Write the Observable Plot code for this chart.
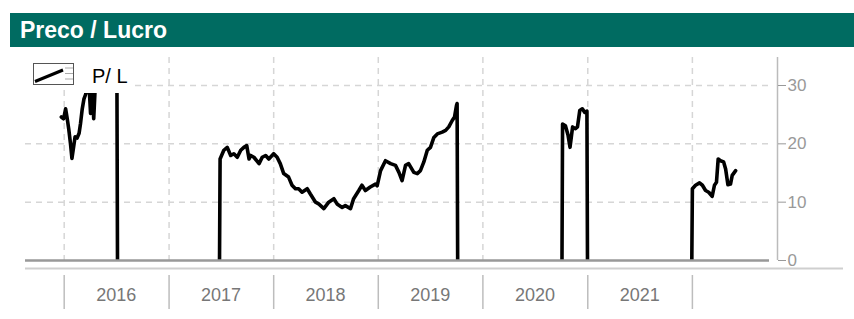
<!DOCTYPE html>
<html>
<head>
<meta charset="utf-8">
<script src="https://cdn.jsdelivr.net/npm/d3@7"></script>
<script src="https://cdn.jsdelivr.net/npm/@observablehq/plot@0.6"></script>
<style>
  body { margin: 0; background: #fff; font-family: Arial, "Liberation Sans", sans-serif; }
  #wrap { position: relative; width: 854px; height: 319px; overflow: hidden; background: #fff; }
  #title { position: absolute; left: 10px; top: 13px; width: 844px; height: 34px; background: #006b61;
           color: #fff; font-weight: bold; font-size: 23px; line-height: 35px; padding-left: 10px; box-sizing: border-box; }
  #chart { position: absolute; left: 0; top: 47px; }
  #legend { position: absolute; left: 25px; top: 57px; width: 110px; height: 33px; background: #fff; z-index: 2; }
  #legend svg { position: absolute; left: 8px; top: 6px; }
  #legend span { position: absolute; left: 67px; top: 8px; font-size: 20px; color: #000; line-height: 22px; }
</style>
</head>
<body>
<div id="wrap">
  <div id="title">Preco / Lucro</div>
  <div id="chart"></div>
  <div id="legend">
    <svg width="41" height="23" viewBox="0 0 41 23">
      <rect x="0.5" y="0.5" width="40" height="21" fill="#fff" stroke="#555" stroke-width="1"/>
      <line x1="2" y1="18.5" x2="30" y2="7" stroke="#000" stroke-width="3"/>
      <line x1="32" y1="5" x2="40" y2="5" stroke="#aaa" stroke-width="1"/>
      <line x1="32" y1="10.5" x2="40" y2="10.5" stroke="#aaa" stroke-width="1"/>
      <line x1="32" y1="16" x2="40" y2="16" stroke="#aaa" stroke-width="1"/>
    </svg>
    <span>P/ L</span>
  </div>
</div>
<script>
// ---- data ----
const dates = [
  "2015-12-22","2015-12-30","2016-01-06","2016-01-11","2016-01-17","2016-01-23","2016-01-28","2016-02-03",
  "2016-02-08","2016-02-15","2016-02-22","2016-02-27","2016-03-04","2016-03-10","2016-03-16","2016-03-21",
  "2016-03-28","2016-04-02","2016-04-07","2016-04-13","2016-04-18","2016-04-23","2016-05-10","2016-06-01",
  "2016-07-03","2016-07-05","2016-07-06",
  "2017-06-26","2017-06-28","2017-07-11","2017-07-23","2017-08-04","2017-08-15","2017-08-27","2017-09-08",
  "2017-09-19","2017-09-29","2017-10-07","2017-10-13","2017-10-24","2017-11-11","2017-11-22","2017-12-04",
  "2017-12-15","2018-01-01","2018-01-13","2018-01-24","2018-02-05","2018-02-22","2018-03-06","2018-03-18",
  "2018-03-29","2018-04-10","2018-04-28","2018-05-09","2018-05-27","2018-06-07","2018-06-25","2018-07-12",
  "2018-07-30","2018-08-10","2018-08-28","2018-09-08","2018-09-26","2018-10-07","2018-10-25","2018-11-05",
  "2018-11-17","2018-12-04","2018-12-22","2018-12-28","2019-01-09","2019-01-26","2019-02-13","2019-03-02",
  "2019-03-14","2019-03-25","2019-04-06","2019-04-17","2019-05-05","2019-05-17","2019-05-28","2019-06-09",
  "2019-06-21","2019-07-02","2019-07-14","2019-07-26","2019-08-12","2019-08-24","2019-09-04","2019-09-16",
  "2019-09-24","2019-10-01","2019-10-03","2019-10-05","2019-10-06",
  "2020-10-03","2020-10-05","2020-10-15","2020-10-24","2020-10-31","2020-11-09","2020-11-19","2020-11-26",
  "2020-12-04","2020-12-13","2020-12-21","2020-12-29","2020-12-31","2021-01-01",
  "2021-12-30","2022-01-01","2022-01-12","2022-01-26","2022-02-05","2022-02-16","2022-02-27","2022-03-11",
  "2022-03-19","2022-03-26","2022-04-01","2022-04-09","2022-04-20","2022-04-27","2022-05-05","2022-05-14",
  "2022-05-20","2022-06-01"
];
const pe = [
  24.6, 24.3, 26.0, 24.5, 22.5, 20.0, 17.5, 19.5,
  21.2, 21.0, 21.8, 23.5, 26.0, 27.7, 28.5, 29.8,
  29.8, 25.2, 29.8, 24.3, 29.5, 31, 32, 31,
  31, 0, null,
  0, 17.4, 18.9, 19.4, 18.0, 18.3, 17.7, 18.9,
  19.4, 19.7, 17.4, 18.0, 17.7, 16.6, 17.7, 18.0,
  17.4, 18.3, 17.7, 16.6, 14.9, 14.3, 12.9, 12.3,
  12.3, 11.7, 12.3, 11.4, 10.0, 9.7, 8.9, 10.0,
  10.6, 9.7, 9.1, 9.4, 8.9, 10.6, 12.0, 12.9,
  12.0, 12.6, 13.1, 12.8, 15.4, 17.1, 16.6, 16.3,
  15.1, 13.7, 16.3, 16.6, 15.1, 14.9, 15.4, 16.9,
  18.9, 19.4, 21.1, 21.7, 22.0, 22.3, 22.9, 24.0,
  24.6, 26.6, 26.9, 0, null,
  0, 23.4, 23.1, 21.5, 19.4, 22.9, 22.6, 22.9,
  25.7, 26.0, 25.4, 25.6, 0, null,
  0, 12.3, 12.9, 13.3, 12.9, 12.0, 11.7, 11.0,
  12.9, 13.4, 17.4, 17.1, 16.9, 15.7, 13.0, 13.1,
  14.6, 15.4
];
const yearLabels = ["2016","2017","2018","2019","2020","2021"];
const yearMids = ["2016-07-01","2017-07-01","2018-07-01","2019-07-01","2020-07-01","2021-07-01"];
const yearBoundaries = ["2016-01-01","2017-01-01","2018-01-01","2019-01-01","2020-01-01","2021-01-01","2022-01-01"];
const yTicks = [0, 10, 20, 30];
const xDomain = ["2015-08-19","2022-10-25"];

// ---- build ----
const rows = dates.map((d, i) => ({date: new Date(d), pe: pe[i]}));
const bounds = yearBoundaries.map(d => new Date(d));
const mids = yearMids.map(d => new Date(d));
const dom = xDomain.map(d => new Date(d));

const plot = Plot.plot({
  width: 854,
  height: 272,
  marginTop: 46,
  marginBottom: 59,
  marginLeft: 25,
  marginRight: 77,
  style: {fontFamily: 'Arial, "Liberation Sans", sans-serif', background: "transparent", overflow: "visible"},
  x: {type: "utc", domain: dom, axis: null},
  y: {domain: [0, 30], range: [213, 38], label: null},
  marks: [
    Plot.gridY(yTicks.filter(v => v > 0), {stroke: "#d6d6d6", strokeOpacity: 1, strokeWidth: 1.5, strokeDasharray: "6,5", insetRight: 8}),
    Plot.gridX(bounds, {stroke: "#d6d6d6", strokeOpacity: 1, strokeWidth: 1.5, strokeDasharray: "6,5", insetTop: -36}),
    Plot.ruleX([dom[1]], {stroke: "#bbb", strokeWidth: 1.5, insetTop: -36}),
    Plot.ruleY([0], {dy: 8, insetRight: -66, stroke: "#cfcfcf", strokeWidth: 2}),
    Plot.ruleX(bounds, {insetTop: 182, insetBottom: -49, stroke: "#bdbdbd", strokeWidth: 1.5}),
    Plot.text(yearLabels, {x: mids, text: yearLabels, frameAnchor: "bottom", dy: 40, fontSize: 18, fill: "#777"}),
    Plot.axisY(yTicks, {anchor: "right", tickSize: 8, tickPadding: 2, fontSize: 17, color: "#999", label: null}),
    Plot.line(rows, {x: "date", y: "pe", stroke: "#000", strokeWidth: 3.6, strokeLinejoin: "round", clip: true}),
    Plot.ruleY([0], {stroke: "#999", strokeWidth: 2.5, insetRight: 8})
  ]
});
document.getElementById("chart").appendChild(plot);
</script>
</body>
</html>
